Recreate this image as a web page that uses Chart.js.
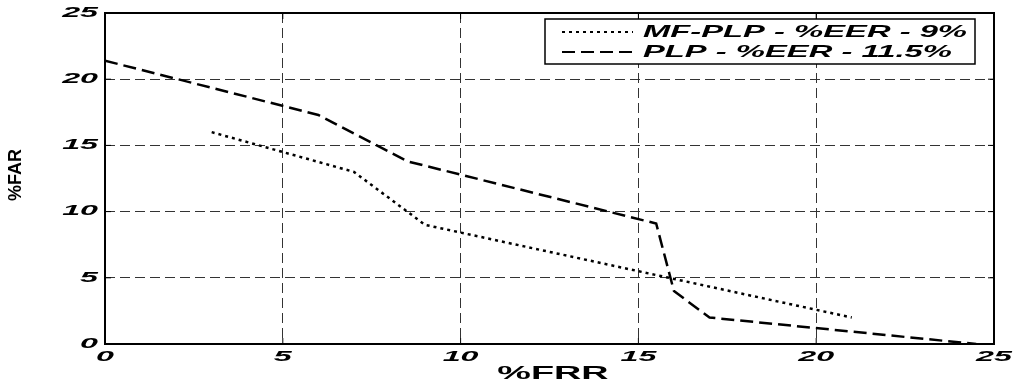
<!DOCTYPE html>
<html>
<head>
<meta charset="utf-8">
<script src="https://cdn.jsdelivr.net/npm/chart.js@4/dist/chart.umd.min.js"></script>
<style>
  html, body { margin: 0; padding: 0; background: #fff; }
  #wrap { width: 1016px; height: 386px; }
</style>
</head>
<body>
<div id="wrap"><canvas id="det-chart" width="1016" height="386"></canvas></div>
<script>
// Values (%FRR on x, %FAR on y)
const mfplpFRR = [3, 7, 9, 21];
const mfplpFAR = [16, 13, 9, 2];
const plpFRR = [0, 6, 8.5, 15.5, 16, 17, 24.5];
const plpFAR = [21.4, 17.3, 13.8, 9.1, 4, 2, 0];
const seriesNames = ['MF-PLP - %EER - 9%', 'PLP - %EER - 11.5%'];
const xTicks = [0, 5, 10, 15, 20, 25];
const yTicks = [0, 5, 10, 15, 20, 25];
const xTitle = '%FRR';
const yTitle = '%FAR';

function toPoints(xs, ys) {
    return xs.map((x, i) => ({x: x, y: ys[i]}));
}

// text in the original figure is stretched horizontally, so draw it with a scale
function drawStretched(ctx, text, x, y, align, font, sx, baseline) {
    ctx.save();
    ctx.font = font;
    ctx.fillStyle = '#000';
    ctx.textAlign = align;
    ctx.textBaseline = baseline || 'middle';
    ctx.translate(x, y);
    ctx.scale(sx, 1);
    ctx.fillText(text, 0, 0);
    ctx.restore();
}

const frameAndText = {
    id: 'frameAndText',
    afterDraw(chart) {
        const ctx = chart.ctx;
        const area = chart.chartArea;
        const xs = chart.scales.x;
        const ys = chart.scales.y;

        // box around the axes
        ctx.save();
        ctx.strokeStyle = '#000';
        ctx.lineWidth = 2;
        ctx.setLineDash([]);
        ctx.strokeRect(area.left, area.top, area.right - area.left, area.bottom - area.top);

        // small inward tick marks
        ctx.lineWidth = 1;
        xTicks.forEach(v => {
            const px = xs.getPixelForValue(v);
            ctx.beginPath();
            ctx.moveTo(px, area.bottom); ctx.lineTo(px, area.bottom - 6);
            ctx.moveTo(px, area.top); ctx.lineTo(px, area.top + 6);
            ctx.stroke();
        });
        yTicks.forEach(v => {
            const py = ys.getPixelForValue(v);
            ctx.beginPath();
            ctx.moveTo(area.left, py); ctx.lineTo(area.left + 6, py);
            ctx.moveTo(area.right, py); ctx.lineTo(area.right - 6, py);
            ctx.stroke();
        });
        ctx.restore();

        const tickFont = 'italic bold 14px "Liberation Sans", Arial, sans-serif';
        xTicks.forEach(v => {
            drawStretched(ctx, String(v), xs.getPixelForValue(v), area.bottom + 13, 'center', tickFont, 2.3);
        });
        yTicks.forEach(v => {
            drawStretched(ctx, String(v), area.left - 7, ys.getPixelForValue(v), 'right', tickFont, 2.3);
        });

        // axis titles
        drawStretched(ctx, xTitle, 553, 374, 'center', 'bold 18px "Liberation Sans", Arial, sans-serif', 2.1);
        ctx.save();
        ctx.translate(16, 175);
        ctx.rotate(-Math.PI / 2);
        ctx.font = 'bold 18px "Liberation Sans", Arial, sans-serif';
        ctx.fillStyle = '#000';
        ctx.textAlign = 'center';
        ctx.textBaseline = 'middle';
        ctx.fillText(yTitle, 0, 0);
        ctx.restore();

        // legend box
        const lg = {left: 545, top: 19, right: 975, bottom: 64};
        ctx.save();
        ctx.fillStyle = '#fff';
        ctx.fillRect(lg.left, lg.top, lg.right - lg.left, lg.bottom - lg.top);
        ctx.strokeStyle = '#000';
        ctx.lineWidth = 1.5;
        ctx.strokeRect(lg.left, lg.top, lg.right - lg.left, lg.bottom - lg.top);
        ctx.restore();

        const legFont = 'italic bold 17px "Liberation Sans", Arial, sans-serif';
        ctx.save();
        ctx.font = legFont;
        const sx = (967 - 643) / ctx.measureText(seriesNames[0]).width;
        ctx.restore();
        chart.data.datasets.forEach((ds, i) => {
            const ly = 32 + i * 20;
            ctx.save();
            ctx.strokeStyle = ds.borderColor;
            ctx.lineWidth = 2;
            ctx.setLineDash(ds.borderDash);
            ctx.beginPath();
            ctx.moveTo(562, ly);
            ctx.lineTo(633, ly);
            ctx.stroke();
            ctx.restore();
            drawStretched(ctx, ds.label, 643, ly + 4.5, 'left', legFont, sx, 'alphabetic');
        });
    }
};

const ctx = document.getElementById('det-chart').getContext('2d');
new Chart(ctx, {
    type: 'line',
    data: {
        datasets: [
            {
                label: seriesNames[0],
                data: toPoints(mfplpFRR, mfplpFAR),
                borderColor: '#000',
                borderWidth: 2.5,
                borderDash: [3, 4],
                pointRadius: 0,
                tension: 0,
                fill: false
            },
            {
                label: seriesNames[1],
                data: toPoints(plpFRR, plpFAR),
                borderColor: '#000',
                borderWidth: 2.5,
                borderDash: [13, 6],
                pointRadius: 0,
                tension: 0,
                fill: false
            }
        ]
    },
    options: {
        responsive: false,
        animation: false,
        layout: { padding: { left: 105, right: 22, top: 13, bottom: 42 } },
        scales: {
            x: {
                type: 'linear',
                min: 0,
                max: 25,
                ticks: { display: false, stepSize: 5 },
                grid: { color: '#333', lineWidth: 1, drawTicks: false },
                border: { display: false, dash: [10, 5] }
            },
            y: {
                type: 'linear',
                min: 0,
                max: 25,
                ticks: { display: false, stepSize: 5 },
                grid: { color: '#333', lineWidth: 1, drawTicks: false },
                border: { display: false, dash: [10, 5] }
            }
        },
        plugins: {
            legend: { display: false },
            tooltip: { enabled: false }
        }
    },
    plugins: [frameAndText]
});
</script>
</body>
</html>
